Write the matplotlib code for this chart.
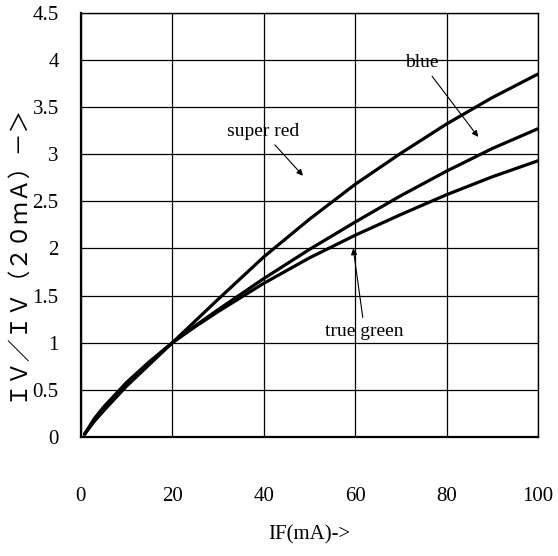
import matplotlib.pyplot as plt

# corriente directa (mA)
corriente = [0.8, 3, 5, 10, 15, 20, 25, 30, 40, 50, 60, 70, 80, 90, 100]

# intensidad relativa IV/IV(20mA)
super_red = [0.03, 0.17, 0.28, 0.54, 0.77, 1.0, 1.23, 1.46, 1.91, 2.31, 2.68, 3.01, 3.32, 3.60, 3.85]
blue = [0.03, 0.19, 0.31, 0.56, 0.79, 1.0, 1.18, 1.35, 1.68, 1.99, 2.28, 2.56, 2.82, 3.06, 3.27]
true_green = [0.03, 0.20, 0.32, 0.58, 0.80, 1.0, 1.17, 1.33, 1.63, 1.90, 2.14, 2.36, 2.57, 2.76, 2.93]

xticks = [0, 20, 40, 60, 80, 100]
yticks = [0, 0.5, 1, 1.5, 2, 2.5, 3, 3.5, 4, 4.5]
ytick_labels = ['0', '0.5', '1', '1.5', '2', '2.5', '3', '3.5', '4', '4.5']

fig = plt.figure(figsize=(5.58, 5.56), dpi=100)
ax = fig.add_axes([0.145, 0.214, 0.819, 0.763])

for serie in (super_red, blue, true_green):
    ax.plot(corriente, serie, color='black', linewidth=2.3,
            solid_capstyle='round', solid_joinstyle='round')

ax.set_xlim(0, 100)
ax.set_ylim(0, 4.5)
ax.set_xticks(xticks)
ax.set_yticks(yticks)
ax.set_yticklabels(ytick_labels)
ax.grid(True, color='black', linewidth=0.9)
ax.tick_params(length=0, labelsize=15)
ax.tick_params(axis='x', pad=36)
ax.tick_params(axis='y', pad=16)
for lbl in ax.get_xticklabels() + ax.get_yticklabels():
    lbl.set_family('Liberation Serif')

for s in ax.spines.values():
    s.set_color('black')
    s.set_linewidth(1.0)
ax.spines['left'].set_linewidth(1.6)
ax.spines['bottom'].set_linewidth(1.6)

ax.set_xlabel('IF(mA)->', fontsize=15, family='Liberation Serif', labelpad=14)
fig.text(16 / 558, 1 - 252 / 556, 'ＩＶ／ＩＶ（２０ｍＡ）－＞', fontsize=16.5,
         family=['Noto Sans CJK JP', 'DejaVu Sans'], rotation=90,
         ha='center', va='center')

flecha = dict(arrowstyle='-|>', color='black', lw=0.8, mutation_scale=9)
ax.annotate('blue', xy=(87.3, 3.16), xytext=(74.6, 3.97), fontsize=14,
            family='Liberation Serif', ha='center', va='center', arrowprops=flecha)
ax.annotate('super red', xy=(49.0, 2.75), xytext=(39.8, 3.24), fontsize=14,
            family='Liberation Serif', ha='center', va='center', arrowprops=flecha)
ax.annotate('true green', xy=(59.5, 2.03), xytext=(62.1, 1.12), fontsize=14,
            family='Liberation Serif', ha='center', va='center', arrowprops=flecha)

plt.savefig('out.png', dpi=100)
